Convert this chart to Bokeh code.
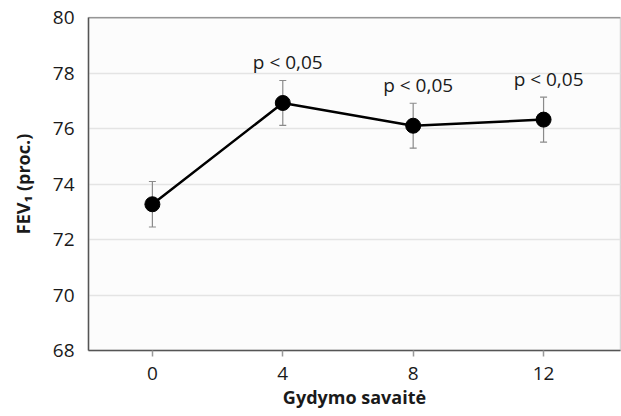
from bokeh.plotting import figure
from bokeh.models import ColumnDataSource, Whisker, TeeHead, Span, FixedTicker, Range1d
from bokeh.core.properties import value
from bokeh.embed import file_html
from bokeh.resources import INLINE

weeks = [0, 4, 8, 12]
fev1 = [73.27, 76.92, 76.10, 76.32]
err = [0.82, 0.81, 0.81, 0.81]
p_weeks = [4, 8, 12]
p_labels = ["p < 0,05", "p < 0,05", "p < 0,05"]
y_ticks = [68, 70, 72, 74, 76, 78, 80]

FONT = "Open Sans"

src = ColumnDataSource(dict(
    x=weeks, y=fev1,
    lower=[m - e for m, e in zip(fev1, err)],
    upper=[m + e for m, e in zip(fev1, err)],
))
p_upper = [fev1[weeks.index(w)] + err[weeks.index(w)] for w in p_weeks]
psrc = ColumnDataSource(dict(x=p_weeks, y=p_upper, t=p_labels))

p = figure(width=621, height=416, output_backend="svg", toolbar_location=None,
           x_range=Range1d(-1.96, 14.36), y_range=Range1d(68, 80),
           min_border_left=88, min_border_right=1, min_border_top=17, min_border_bottom=66)

p.background_fill_color = "#fcfcfc"
p.border_fill_color = "white"
p.outline_line_color = "#d8d8d8"
p.outline_line_width = 1.5

p.xgrid.grid_line_color = None
p.ygrid.grid_line_color = "#e4e4e4"
p.ygrid.grid_line_width = 1.5

p.yaxis.ticker = FixedTicker(ticks=y_ticks)
p.xaxis.ticker = FixedTicker(ticks=weeks)

for ax in (p.xaxis[0], p.yaxis[0]):
    ax.axis_line_color = "#555555"
    ax.axis_line_width = 1.5
    ax.major_label_text_font = FONT
    ax.major_label_text_font_size = "19px"
    ax.major_label_text_color = "#1a1a1a"
    ax.axis_label_text_font = FONT
    ax.axis_label_text_font_style = "bold"
    ax.axis_label_text_font_size = "18px"
    ax.axis_label_text_color = "#1a1a1a"
    ax.minor_tick_line_color = None

p.yaxis.major_tick_line_color = None
p.yaxis.major_label_standoff = 8
p.yaxis.axis_label = "FEV\u2081 (proc.)"
p.yaxis.axis_label_standoff = 15

p.xaxis.major_tick_line_color = "#999999"
p.xaxis.major_tick_line_width = 1.5
p.xaxis.major_tick_in = 0
p.xaxis.major_tick_out = 6
p.xaxis.major_label_standoff = 10
p.xaxis.axis_label = "Gydymo savaitė"
p.xaxis.axis_label_standoff = 2

p.add_layout(Span(location=80, dimension="width", line_color="#555555", line_width=1.5))

wh = Whisker(source=src, base="x", lower="lower", upper="upper",
             line_color="#8a8a8a", line_width=1.2,
             upper_head=TeeHead(size=7, line_color="#8a8a8a", line_width=1.2),
             lower_head=TeeHead(size=7, line_color="#8a8a8a", line_width=1.2))
p.add_layout(wh)

p.line("x", "y", source=src, line_color="black", line_width=2.5)
p.scatter("x", "y", source=src, size=15, fill_color="black", line_color="black")

p.text("x", "y", text="t", source=psrc, text_font=value(FONT), text_font_size="19px",
       text_color="#1a1a1a", text_align="center", text_baseline="bottom",
       x_offset=5, y_offset=-5)

open("out.html", "w").write(file_html(p, INLINE))
